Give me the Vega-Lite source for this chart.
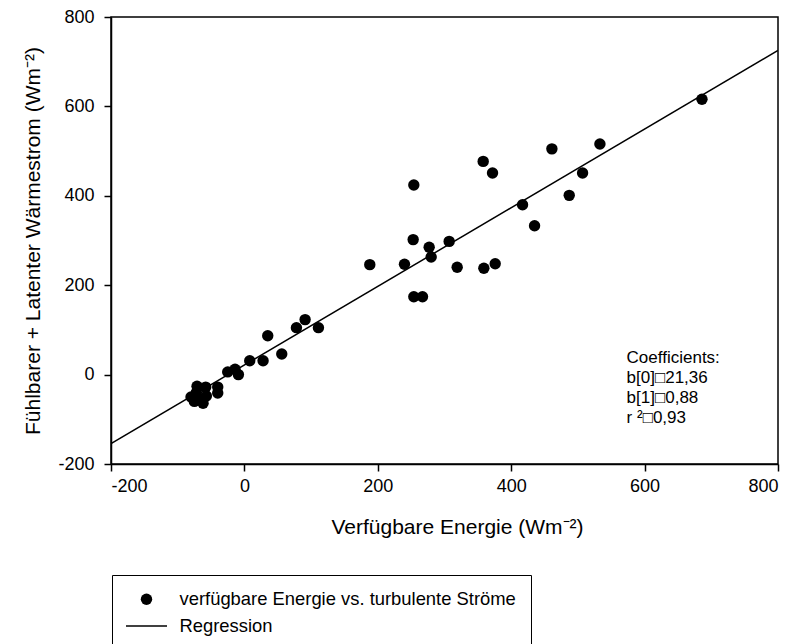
{
  "$schema": "https://vega.github.io/schema/vega-lite/v6.json",
  "width": 667,
  "height": 447,
  "autosize": "none",
  "padding": {"left": 111, "top": 17, "right": 19, "bottom": 180},
  "background": "white",
  "config": {
    "font": "Liberation Sans",
    "view": {"stroke": "black", "strokeWidth": 1.5},
    "axis": {
      "grid": false,
      "domainColor": "black",
      "domainWidth": 1.5,
      "tickColor": "black",
      "tickWidth": 1.5,
      "tickSize": 7,
      "labelFont": "Liberation Sans",
      "labelFontSize": 18,
      "labelColor": "black",
      "labelExpr": "'' + datum.value",
      "titleFont": "Liberation Sans",
      "titleFontSize": 21,
      "titleFontWeight": "normal",
      "titleColor": "black"
    }
  },
  "layer": [
    {
      "description": "Regression line y = 21.36 + 0.88 x across the axis range",
      "data": {"values": [
        {"energie": -200, "strom": -154.64},
        {"energie": 800, "strom": 725.36}
      ]},
      "mark": {"type": "line", "color": "black", "strokeWidth": 1.5, "clip": true},
      "encoding": {
        "x": {"field": "energie", "type": "quantitative"},
        "y": {"field": "strom", "type": "quantitative"}
      }
    },
    {
      "data": {"values": [
        {"energie": 686, "strom": 616, "reihe": "verfügbare Energie vs. turbulente Ströme"},
        {"energie": 533, "strom": 516, "reihe": "verfügbare Energie vs. turbulente Ströme"},
        {"energie": 461, "strom": 505, "reihe": "verfügbare Energie vs. turbulente Ströme"},
        {"energie": 507, "strom": 451, "reihe": "verfügbare Energie vs. turbulente Ströme"},
        {"energie": 358, "strom": 477, "reihe": "verfügbare Energie vs. turbulente Ströme"},
        {"energie": 372, "strom": 451, "reihe": "verfügbare Energie vs. turbulente Ströme"},
        {"energie": 254, "strom": 424, "reihe": "verfügbare Energie vs. turbulente Ströme"},
        {"energie": 417, "strom": 380, "reihe": "verfügbare Energie vs. turbulente Ströme"},
        {"energie": 487, "strom": 401, "reihe": "verfügbare Energie vs. turbulente Ströme"},
        {"energie": 435, "strom": 333, "reihe": "verfügbare Energie vs. turbulente Ströme"},
        {"energie": 253, "strom": 302, "reihe": "verfügbare Energie vs. turbulente Ströme"},
        {"energie": 277, "strom": 285, "reihe": "verfügbare Energie vs. turbulente Ströme"},
        {"energie": 307, "strom": 298, "reihe": "verfügbare Energie vs. turbulente Ströme"},
        {"energie": 280, "strom": 263, "reihe": "verfügbare Energie vs. turbulente Ströme"},
        {"energie": 188, "strom": 246, "reihe": "verfügbare Energie vs. turbulente Ströme"},
        {"energie": 240, "strom": 247, "reihe": "verfügbare Energie vs. turbulente Ströme"},
        {"energie": 319, "strom": 240, "reihe": "verfügbare Energie vs. turbulente Ströme"},
        {"energie": 359, "strom": 238, "reihe": "verfügbare Energie vs. turbulente Ströme"},
        {"energie": 376, "strom": 248, "reihe": "verfügbare Energie vs. turbulente Ströme"},
        {"energie": 254, "strom": 174, "reihe": "verfügbare Energie vs. turbulente Ströme"},
        {"energie": 267, "strom": 174, "reihe": "verfügbare Energie vs. turbulente Ströme"},
        {"energie": 91, "strom": 123, "reihe": "verfügbare Energie vs. turbulente Ströme"},
        {"energie": 78, "strom": 105, "reihe": "verfügbare Energie vs. turbulente Ströme"},
        {"energie": 111, "strom": 105, "reihe": "verfügbare Energie vs. turbulente Ströme"},
        {"energie": 35, "strom": 87, "reihe": "verfügbare Energie vs. turbulente Ströme"},
        {"energie": 56, "strom": 46, "reihe": "verfügbare Energie vs. turbulente Ströme"},
        {"energie": 28, "strom": 31, "reihe": "verfügbare Energie vs. turbulente Ströme"},
        {"energie": 8, "strom": 31, "reihe": "verfügbare Energie vs. turbulente Ströme"},
        {"energie": -9, "strom": 0, "reihe": "verfügbare Energie vs. turbulente Ströme"},
        {"energie": -14, "strom": 12, "reihe": "verfügbare Energie vs. turbulente Ströme"},
        {"energie": -25, "strom": 6, "reihe": "verfügbare Energie vs. turbulente Ströme"},
        {"energie": -40, "strom": -28, "reihe": "verfügbare Energie vs. turbulente Ströme"},
        {"energie": -40, "strom": -41, "reihe": "verfügbare Energie vs. turbulente Ströme"},
        {"energie": -71, "strom": -26, "reihe": "verfügbare Energie vs. turbulente Ströme"},
        {"energie": -58, "strom": -28, "reihe": "verfügbare Energie vs. turbulente Ströme"},
        {"energie": -80, "strom": -50, "reihe": "verfügbare Energie vs. turbulente Ströme"},
        {"energie": -57, "strom": -48, "reihe": "verfügbare Energie vs. turbulente Ströme"},
        {"energie": -62, "strom": -64, "reihe": "verfügbare Energie vs. turbulente Ströme"},
        {"energie": -72, "strom": -40, "reihe": "verfügbare Energie vs. turbulente Ströme"},
        {"energie": -68, "strom": -55, "reihe": "verfügbare Energie vs. turbulente Ströme"},
        {"energie": -75, "strom": -60, "reihe": "verfügbare Energie vs. turbulente Ströme"}
      ]},
      "mark": {"type": "point", "filled": true, "color": "black", "opacity": 1},
      "encoding": {
        "x": {
          "field": "energie", "type": "quantitative",
          "scale": {"domain": [-200, 800], "nice": false, "zero": false},
          "axis": {"values": [-200, 0, 200, 400, 600, 800], "labelPadding": 6, "titlePadding": 21, "titleX": 346},
          "title": "Verfügbare Energie (Wm⁻²)"
        },
        "y": {
          "field": "strom", "type": "quantitative",
          "scale": {"domain": [-200, 800], "nice": false, "zero": false},
          "axis": {"values": [-200, 0, 200, 400, 600, 800], "labelPadding": 10, "titlePadding": 14},
          "title": "Fühlbarer + Latenter Wärmestrom (Wm⁻²)"
        },
        "shape": {
          "field": "reihe", "type": "nominal",
          "scale": {
            "domain": ["verfügbare Energie vs. turbulente Ströme", "Regression"],
            "range": ["circle", "M-2.05,-0.075H2.05V0.075H-2.05Z"]
          },
          "legend": {
            "title": null,
            "orient": "none",
            "legendX": 1,
            "legendY": 558,
            "padding": 15,
            "symbolOffset": 8.5,
            "strokeColor": "black",
            "labelFont": "Liberation Sans",
            "labelFontSize": 18.4,
            "labelColor": "black",
            "labelOffset": 22,
            "labelLimit": 500,
            "rowPadding": 6,
            "encode": {
              "symbols": {
                "update": {
                  "fill": {"value": "black"},
                  "stroke": {"value": "black"},
                  "strokeWidth": {"value": 0}
                }
              }
            }
          }
        },
        "size": {
          "field": "reihe", "type": "nominal",
          "scale": {"domain": ["verfügbare Energie vs. turbulente Ströme", "Regression"], "range": [130, 400]},
          "legend": {"title": null}
        }
      }
    },
    {
      "description": "Fit coefficients",
      "data": {"values": [{}]},
      "mark": {
        "type": "text",
        "align": "left",
        "baseline": "middle",
        "font": "Liberation Sans",
        "fontSize": 17,
        "lineHeight": 20,
        "color": "black"
      },
      "encoding": {
        "x": {"datum": 573},
        "y": {"datum": 37},
        "text": {"value": ["Coefficients:", "b[0]□21,36", "b[1]□0,88", "r ²□0,93"]}
      }
    }
  ]
}
